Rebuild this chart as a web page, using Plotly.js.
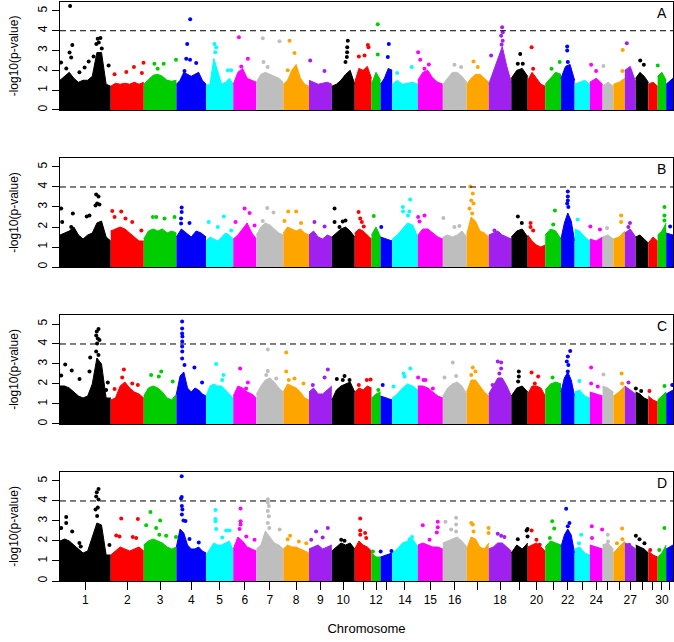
<!DOCTYPE html>
<html><head><meta charset="utf-8">
<script src="https://cdn.plot.ly/plotly-3.0.1.min.js"></script>
<style>html,body{margin:0;padding:0;background:#fff}#chart{width:674px;height:642px}</style>
</head><body><div id="chart"></div>
<script>
// Chromosome lengths (Mb) and tick labels
const chrLen=[185.8,120.9,119.5,108.6,99.7,84.7,98.5,94.1,83.6,83.9,61.3,33.1,42.6,94.0,91.6,87.4,80.7,82.6,60.0,64.2,57.7,49.9,55.7,46.7,39.5,41.9,40.0,46.2,34.0,31.3,25.0];
const chrTick=['1','2','3','4','5','6','7','8','9','10','','12','','14','15','16','','18','','20','','22','','24','','','27','','','30',''];
const palette=['#000000','#FF0000','#00CD00','#0000FF','#00FFFF','#FF00FF','#BEBEBE','#FFA500','#A020F0'];
const panelLetters=['A','B','C','D'];
const threshold=4;

// Dense band heights (-log10 p) sampled evenly along each chromosome
const envA=[[1.5,1.7,1.9,1.6,1.4,1.5,1.5,1.7,2.9,2.9,1.3,1.2],[1.2,1.35,1.3,1.35,1.3,1.4,1.3,1.4],[1.3,1.5,1.75,1.8,1.7,1.5,1.45,1.5],[1.3,1.5,1.9,1.8,1.7,1.8,1.9,1.5,1.3],[1.25,1.3,2.6,2.0,1.3,1.4,1.6,1.3],[1.3,1.9,2.1,1.6,1.5,1.4],[1.4,1.8,1.9,1.8,1.7,1.6,1.4],[1.3,1.5,2.0,2.3,1.6,1.3,1.2],[1.5,1.4,1.3,1.35,1.4,1.3],[1.2,1.3,1.5,1.8,2.0,1.3],[1.4,2.1,2.0,2.2,1.6],[1.3,1.9,1.5],[1.3,1.6,2.1,2.0],[1.3,1.5,1.3,1.35,1.4,1.3],[1.5,1.9,2.0,1.6,1.4,1.3],[1.3,1.6,1.9,1.9,1.7,1.4],[1.3,1.6,1.8,1.8,1.6,1.4],[1.3,1.9,2.5,3.2,2.2,1.4],[1.6,2.0,2.1,1.7],[1.5,1.9,1.6,1.3,1.2],[1.3,1.6,1.9,1.8],[1.6,2.2,2.3,1.5],[1.3,1.4,1.5,1.3],[1.4,1.6,1.3],[1.2,1.4,1.2],[1.3,1.4,1.6],[2.0,2.2,1.4],[1.6,1.9,1.7,1.4],[1.3,1.4,1.2],[1.7,1.9,1.5],[1.3,1.6]];
const envB=[[1.6,1.7,1.8,2.0,1.6,1.4,1.6,1.7,2.2,2.3,1.5,1.3],[1.8,1.9,2.0,1.9,1.7,1.5,1.3,1.3],[1.4,1.8,1.9,1.8,1.9,1.7,1.8,1.7],[1.5,1.9,1.7,1.5,1.8,1.7,1.5],[1.3,1.5,1.4,1.3,1.5,1.7,1.6,1.4],[1.4,1.6,1.9,2.2,1.7,1.4],[1.6,2.0,2.2,2.1,1.9,1.7,1.6],[1.7,2.0,1.9,1.8,1.9,1.7,1.6],[1.6,1.8,1.5,1.4,1.6,1.5],[1.5,1.7,1.9,2.0,1.8,1.5],[1.7,1.9,1.8,1.6,1.4],[1.6,2.0,1.5],[1.5,1.4,1.3],[1.4,1.6,1.9,2.2,2.1,1.5],[1.6,1.9,1.9,1.7,1.5,1.4],[1.5,1.6,1.5,1.6,1.8,1.5],[1.6,2.5,2.3,1.8,1.7,1.5],[1.6,1.7,1.8,1.6,1.5,1.4],[1.5,1.8,1.9,1.5],[1.6,1.3,1.1,1.0,1.1],[1.6,1.9,1.8,1.4],[1.4,2.2,2.7,2.3,1.3],[1.9,1.8,1.5,1.3],[1.4,1.3,1.5],[1.5,1.6,1.4],[1.4,1.5,1.8],[1.7,1.9,1.5],[1.5,1.6,1.4,1.2],[1.2,1.5,1.3],[1.6,1.8,2.2],[1.7,1.6]];
const envC=[[1.9,1.9,1.8,1.6,1.4,1.3,1.4,2.0,3.3,3.0,1.3,1.3],[1.2,1.3,1.9,2.1,1.8,1.6,1.5,1.3],[1.4,1.8,1.9,1.8,1.6,1.3,1.2,1.5],[1.5,2.4,2.6,1.8,1.6,1.8,1.7,1.5,1.4],[1.4,1.9,2.0,1.9,1.9,1.7,1.5,1.3],[1.4,1.9,1.8,1.6,1.5,1.3],[1.5,1.9,2.2,2.3,2.1,1.8,1.6],[1.6,2.0,1.9,1.8,1.6,1.3,1.2],[1.6,1.8,1.5,1.5,1.7,1.9],[1.2,1.7,1.9,2.0,2.1,1.6],[1.6,1.8,1.7,1.9,1.8],[1.3,1.5,1.6],[1.4,1.3,1.2],[1.3,1.5,1.8,2.0,1.9,1.7],[1.9,1.9,1.8,1.6,1.4,1.3],[1.4,1.8,2.0,2.1,1.9,1.5],[1.6,2.2,2.2,1.9,1.6,1.4],[1.5,1.9,2.3,2.3,1.9,1.4],[1.4,1.8,1.9,1.6],[1.5,1.9,1.9,1.8,1.4],[1.7,2.0,2.1,2.0],[1.6,2.3,2.6,2.2,1.4],[1.6,1.7,1.4,1.3],[1.6,1.5,1.4],[1.9,1.8,1.6],[1.4,1.6,1.9],[1.9,1.7,1.5],[1.6,1.5,1.3,1.2],[1.4,1.2,1.1],[1.2,1.4,1.6],[1.5,1.7]];
const envD=[[2.0,2.1,2.0,1.8,1.6,1.4,1.5,2.2,2.9,2.8,1.3,1.3],[1.3,1.5,1.7,1.6,1.5,1.6,1.7,1.5],[1.8,2.0,2.1,2.0,1.9,1.7,1.6,1.7],[1.7,2.6,2.4,1.8,1.6,1.6,1.7,1.5,1.4],[1.3,1.6,1.9,1.8,1.8,1.9,2.0,1.5],[1.6,2.2,2.0,1.7,1.6,1.5],[1.6,1.8,2.5,2.2,1.9,1.8,1.6],[1.6,1.8,1.7,1.7,1.6,1.5,1.4],[1.6,1.7,1.8,1.6,1.7,1.8],[1.5,1.7,1.9,1.8,1.9,1.6],[1.6,2.0,1.8,1.7,1.5],[1.4,1.2,1.2],[1.2,1.3,1.4],[1.4,1.6,1.9,2.0,2.1,1.7],[1.8,1.9,1.8,1.7,1.7,1.6],[1.9,2.0,2.1,2.2,2.0,1.7],[1.6,2.2,2.1,1.7,1.6,1.9],[1.6,1.7,1.9,1.9,1.7,1.5],[1.4,1.8,1.6,1.9],[1.7,1.8,1.9,1.7,1.5],[1.7,2.0,1.9,1.8],[1.7,2.3,2.6,2.3,1.4],[1.6,1.7,1.4,1.3],[1.8,1.7,1.6],[1.8,1.9,1.6],[1.4,1.7,2.0],[1.9,1.8,1.6],[1.8,1.7,1.6,1.4],[1.5,1.3,1.2],[1.2,1.4,1.8],[1.6,1.8]];

// Individual SNPs standing out: [chromosome, position (Mb), -log10 p]
const dotsA=[[1,37,5.25],[1,45,3.28],[1,35,2.9],[1,41,2.65],[1,4,2.4],[1,23,2.1],[1,105,2.45],[1,90,2.15],[1,71,1.9],[1,138,3.6],[1,148,3.63],[1,133,3.33],[1,142,3.4],[1,153,3.1],[1,178,2.25],[1,123,2.7],
[2,14,1.8],[2,57,1.92],[2,85,2.17],[2,114,1.87],[2,120,2.38],[3,39,2.33],[3,73,2.33],[3,118,2.53],[3,51,2.08],
[4,50.5,4.58],[4,39.5,3.33],[4,36,2.58],[4,72.5,2.37],[4,29.7,1.97],[4,50,2.53],[5,31,3.33],[5,37.4,3.17],[5,33.7,2.92],[5,79.8,2.0],[5,92,2.0],
[6,20.5,3.67],[6,53.5,2.58],[6,29.3,2.2],[7,23.4,3.62],[7,26,2.42],[7,41,2.17],[7,84.6,3.47],[8,22.7,3.5],[8,41,2.88],[8,16,2.0],[9,4.4,2.5],[9,56.7,1.97],
[10,58.6,3.5],[10,56.4,3.17],[10,56,2.92],[10,55,2.67],[10,50,2.42],[11,48,3.28],[11,50.5,3.17],[11,35.9,2.75],[11,15,2.7],[12,23,4.33],[12,23,2.8],[13,30.4,3.33],[13,26.7,2.67],
[14,71.8,2.17],[14,18.3,1.87],[15,1,2.92],[15,8.8,2.53],[15,40.3,2.3],[15,24.5,2.08],[16,42.5,2.28],[16,66.8,2.17],[17,24.9,2.45],[17,40.6,2.17],
[18,8.8,2.75],[18,49,4.17],[18,51.3,3.92],[18,45.4,3.75],[18,51,3.5],[18,47,3.3],[19,32.6,2.83],[19,23.8,2.33],[19,42,2.33],[20,14.3,3.17],[20,20,2.08],[21,53,2.42],[21,23,2.08],
[22,22.7,3.2],[22,22.7,3.0],[22,25,2.42],[24,4.8,2.28],[24,23,1.97],[25,3.3,2.22],[26,34.4,3.03],[26,33,1.97],[27,7.3,3.37],[28,16.5,2.5],[28,29.7,2.28],[30,0.5,2.25]];
const dotsB=[[1,4.4,2.92],[1,8,2.25],[1,47,2.67],[1,41,2.0],[1,98,2.53],[1,108,2.57],[1,132.5,3.62],[1,141,3.53],[1,136,3.17],[1,144.6,3.12],[1,130,3.08],
[2,5.5,2.8],[2,38.4,2.78],[2,54,2.42],[2,78.7,2.25],[2,14,2.5],[2,112,1.83],[3,33.3,2.5],[3,45.8,2.5],[3,76,2.42],[3,112.6,2.5],
[4,19.4,2.97],[4,19.4,2.75],[4,17.2,2.42],[4,17.2,2.17],[4,48,2.2],[5,10,2.25],[5,65,2.53],[5,43,2.0],[5,92,1.83],[6,41.4,2.92],[6,59.7,2.7],[6,8.4,2.25],[6,78,2.08],
[7,39.5,2.95],[7,62.6,2.73],[7,23.4,2.3],[8,18,2.78],[8,47,2.78],[8,4.4,2.3],[8,65,2.2],[9,20,2.25],[9,57,2.03],
[10,9.9,2.92],[10,9.9,2.25],[10,40,2.28],[10,50,2.33],[10,28,2.0],[11,14,2.75],[11,20,2.42],[11,26,2.25],[11,33,2.03],[12,8.4,2.55],[13,2.6,2.0],
[14,66,3.38],[14,39,3.0],[14,40,2.78],[14,63,2.78],[14,58,2.58],[15,24.5,2.58],[15,1,2.5],[15,6.2,2.28],[16,2.2,2.45],[16,60.5,2.05],[16,42,2.0],
[17,12.8,4.03],[17,22.3,3.67],[17,16.5,3.33],[17,24.9,3.17],[17,10.3,2.92],[17,20,2.67],[18,21,1.83],[19,24,2.53],[19,38.4,2.2],[20,10.6,2.2],[20,10.6,2.0],[20,20,1.83],
[21,35.5,2.83],[21,29.3,2.13],[22,25,3.78],[22,25,3.53],[22,25,3.33],[22,22.7,3.17],[22,27,3.0],[23,11.3,2.37],[24,2,2.03],[24,37,1.87],[25,16.5,1.95],
[26,28.5,2.58],[26,28.5,2.25],[27,19,2.2],[27,13,2.0],[30,25,3.0],[30,25,2.58],[30,25,2.33],[31,14.5,2.03]];
const dotsC=[[1,19,2.98],[1,4.4,2.42],[1,43,2.67],[1,71.4,2.25],[1,108,2.62],[1,110.6,3.33],[1,141,4.75],[1,134.7,4.62],[1,132.5,4.42],[1,138.4,4.28],[1,144.6,4.2],[1,136,4.03],[1,132.5,3.62],[1,141,3.45],[1,175,2.08],[1,169,1.7],
[2,48,2.73],[2,42,2.32],[2,78.7,2.03],[2,99.3,1.95],[2,14,1.75],[3,27,2.45],[3,64,2.62],[3,55,2.37],[3,106,2.12],
[4,21,5.12],[4,21,4.78],[4,21,4.53],[4,22,4.37],[4,21.5,4.12],[4,21,3.87],[4,21.5,3.62],[4,21,3.28],[4,29.7,2.95],[4,66,2.83],[4,94,2.07],
[5,37,3.0],[5,64,2.45],[5,59,2.2],[6,25,2.78],[6,53.5,2.07],[6,47,1.78],[7,41.8,3.73],[7,41.8,2.65],[7,36,2.45],[7,72.5,2.28],
[8,10.6,3.58],[8,10.6,2.62],[8,41,2.28],[8,74,2.03],[8,20,2.2],[9,69,2.73],[9,14,1.95],[9,57,2.32],[10,46.5,2.4],[10,18.3,2.25],[10,40,2.2],[10,64.8,2.2],
[11,44.3,2.2],[11,58,2.23],[11,15,1.95],[12,25,1.7],[13,8,1.95],[14,66.6,2.78],[14,41.8,2.53],[14,45.4,2.37],[14,4.8,1.87],[15,1,2.32],[15,28,2.2],[15,21,2.2],[15,55,1.78],
[16,36.3,3.08],[16,5.9,2.32],[16,48.7,2.4],[17,22.3,2.83],[17,32.2,2.62],[17,16.5,2.45],[18,33,3.12],[18,45.4,3.08],[18,45.4,2.78],[18,39,2.53],[18,14,1.95],
[19,27.5,2.62],[19,27.5,2.37],[19,25,2.12],[20,14.3,2.57],[20,38.4,2.37],[20,26,2.03],[21,26.8,2.32],[22,33.7,3.65],[22,25,3.37],[22,21.3,3.12],[22,27,2.95],[22,25,2.62],
[23,17.6,2.15],[24,4.8,2.82],[24,4.8,2.03],[24,29,1.87],[25,3.3,2.48],[26,30,2.53],[26,32,2.03],[27,13.5,2.08],[28,0.5,1.78],[28,20,1.65],[29,4,1.65],[30,25,1.9],[31,22,1.95]];
const dotsD=[[1,22.7,3.2],[1,22.7,2.9],[1,4.4,2.65],[1,44.7,2.48],[1,71,1.9],[1,76,1.72],[1,141,4.6],[1,134.7,4.43],[1,132.5,4.22],[1,141,4.08],[1,138.4,3.67],[1,130,3.58],[1,136,3.25],[1,181,1.8],
[2,38.4,3.13],[2,99.3,3.1],[2,20,2.27],[2,32,2.23],[2,80.6,2.2],[2,93,2.15],[3,24.5,3.45],[3,60,3.02],[3,8.8,2.79],[3,45.4,2.65],[3,57,2.31],[3,82,2.26],[3,118,2.2],
[4,19.4,5.24],[4,19.4,4.2],[4,17,4.12],[4,20,3.75],[4,22,3.58],[4,20,3.33],[4,26,3.02],[4,33.3,3.0],[4,48,2.1],[4,82,1.93],
[5,34.4,3.55],[5,34.4,3.1],[5,34.4,2.99],[5,37,2.6],[5,86,2.52],[5,74,2.52],[5,59,2.18],[6,26.7,3.62],[6,26.7,2.99],[6,26.7,2.82],[6,23.1,2.6],[6,47.6,2.23],[6,78,2.06],
[7,41.8,4.09],[7,41.8,3.92],[7,45.5,3.75],[7,41.8,3.5],[7,45.5,3.24],[7,41.8,2.9],[7,47,2.65],[7,85,2.57],[8,25,2.26],[8,16,2.09],[8,57,1.98],[8,84,1.89],
[9,69,2.65],[9,26,2.48],[9,8,2.06],[9,50,2.18],[10,34.4,2.06],[10,46.5,2.01],[11,20,3.13],[11,20,2.52],[11,38,2.4],[11,20,2.31],[11,42,2.15],[12,5,1.47],[13,0.5,1.47],[13,40,1.5],
[14,73,2.2],[14,64,2.09],[15,18,2.79],[15,73,2.96],[15,73,2.69],[15,69.6,2.43],[15,43,2.06],[16,9.5,2.96],[16,48.7,3.16],[16,48.7,2.82],[16,30.4,2.57],[16,48.7,2.48],
[17,16.5,2.9],[17,22.3,2.82],[17,80,2.65],[17,80,2.4],[17,25,2.48],[18,33,2.36],[18,45.4,2.26],[18,57.5,2.2],[19,59.5,2.6],[19,23.8,2.09],[19,59.5,2.23],[19,56,2.52],
[20,14.3,2.52],[20,32,2.06],[20,44,1.81],[21,25.6,2.99],[21,33,2.62],[21,17,2.15],[22,19,3.61],[22,31,2.9],[22,25,2.74],[23,24,2.31],[23,16,1.89],
[24,7,2.74],[24,45,2.57],[24,8,2.15],[25,19,2.31],[25,20,1.98],[26,32,2.62],[26,33,2.09],[26,13,1.89],[27,16,1.81],[28,0.5,2.26],[28,13.9,2.09],[28,32,1.89],[29,7,1.55],[30,25,2.65],[30,6,1.55]];

const envs=[envA,envB,envC,envD];
const dots=[dotsA,dotsB,dotsC,dotsD];

const starts=[];let acc=0;chrLen.forEach(l=>{starts.push(acc);acc+=l;});const total=acc;
const mids=chrLen.map((l,i)=>starts[i]+l/2);
const colOf=c=>palette[(c-1)%palette.length];

const traces=[];
envs.forEach((env,pi)=>{
  const xa=pi===0?'x':'x'+(pi+1), ya=pi===0?'y':'y'+(pi+1);
  env.forEach((v,ci)=>{
    const n=v.length;
    const xs=v.map((_,i)=>starts[ci]+chrLen[ci]*i/(n-1));
    const col=palette[ci%palette.length];
    traces.push({type:'scatter',mode:'lines',x:xs,y:v,fill:'tozeroy',fillcolor:col,
      line:{color:col,width:1},xaxis:xa,yaxis:ya,hoverinfo:'skip',showlegend:false});
  });
  const d=dots[pi];
  traces.push({type:'scatter',mode:'markers',x:d.map(p=>starts[p[0]-1]+p[1]),y:d.map(p=>p[2]),
    marker:{color:d.map(p=>colOf(p[0])),size:4,line:{width:0}},xaxis:xa,yaxis:ya,hoverinfo:'skip',showlegend:false});
});

const domains=[[0.8135,1],[0.5423,0.7306],[0.2712,0.4594],[0,0.1883]];
const font={family:'Liberation Sans, Arial, sans-serif',color:'#000'};
const layout={width:674,height:642,margin:{l:60,r:1,t:2,b:61},paper_bgcolor:'#fff',plot_bgcolor:'#fff',
  font:font,showlegend:false,shapes:[],annotations:[]};
for(let pi=0;pi<4;pi++){
  const sx=pi===0?'':String(pi+1);
  const last=pi===3;
  layout['xaxis'+sx]={domain:[0,1],anchor:'y'+sx,range:[0,total],showgrid:false,zeroline:false,
    showline:true,mirror:true,linecolor:'#000',linewidth:1,
    ticks:last?'outside':'',ticklen:8,tickcolor:'#000',showticklabels:last,
    tickmode:'array',tickvals:mids,ticktext:chrTick,tickfont:{size:12,color:'#000'},
    title:last?{text:'Chromosome',font:{size:13,color:'#000'},standoff:17}:{text:''}};
  layout['yaxis'+sx]={domain:domains[pi],anchor:'x'+sx,range:[0,5.45],showgrid:false,zeroline:false,
    showline:true,mirror:true,linecolor:'#000',linewidth:1,ticks:'outside',ticklen:7,tickcolor:'#000',
    tickmode:'array',tickvals:[0,1,2,3,4,5],tickangle:-90,tickfont:{size:12,color:'#000'},
    title:{text:'-log10(p-value)',font:{size:12,color:'#000'},standoff:14}};
  layout.shapes.push({type:'line',xref:'x'+sx+' domain',yref:'y'+sx,x0:0,x1:1,y0:threshold,y1:threshold,
    line:{color:'#000',width:1,dash:'6px,4px'}});
  layout.annotations.push({xref:'x'+sx+' domain',yref:'y'+sx+' domain',x:0.982,y:0.9,xanchor:'center',yanchor:'middle',
    text:panelLetters[pi],showarrow:false,font:{size:14,color:'#000'}});
}
Plotly.newPlot('chart',traces,layout,{displayModeBar:false,staticPlot:true});
</script></body></html>
